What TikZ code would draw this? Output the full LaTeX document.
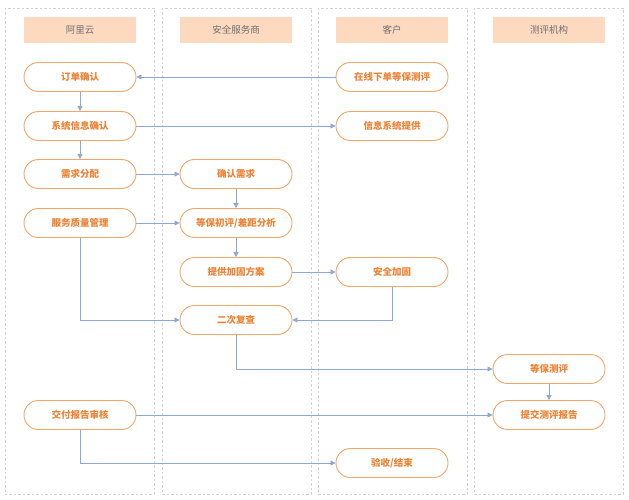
\documentclass[tikz,border=0pt]{standalone}
\usepackage{fontspec}
\setmainfont{Noto Sans CJK SC}
\usepackage{tikz}
\usetikzlibrary{arrows.meta,positioning}

\definecolor{lanegray}{HTML}{D2D2D2}
\definecolor{headfill}{HTML}{FDD9BF}
\definecolor{headtext}{HTML}{707070}
\definecolor{stepline}{HTML}{F3A66A}
\definecolor{steptext}{HTML}{EE8235}
\definecolor{flowblue}{HTML}{8EA7D9}

\begin{document}
\begin{tikzpicture}[x=1pt,y=-1pt]

\tikzstyle{lane}=[draw=lanegray,dash pattern=on 2.5pt off 2pt,line width=0.6pt]
\tikzstyle{header}=[fill=headfill,draw=none,minimum width=112pt,minimum height=26pt,inner sep=0pt,text=headtext,font=\fontsize{9.5}{11}\selectfont]
\tikzstyle{stepbox}=[draw=stepline,fill=white,line width=0.9pt,rounded corners=14.5pt,minimum width=112pt,minimum height=29pt,inner sep=0pt,text=steptext,font=\fontsize{9.5}{11}\selectfont\bfseries]
\tikzstyle{flow}=[draw=flowblue,line width=0.8pt,-{Triangle[length=5pt,width=5pt]}]

\useasboundingbox (0,0) rectangle (629,500);

% swim lanes
\draw [lane] (5,8) rectangle (154,494);
\draw [lane] (162,8) rectangle (311,494);
\draw [lane] (318,8) rectangle (467,494);
\draw [lane] (474,8) rectangle (623,494);

\node (h_aliyun) [header] at (80,30) {阿里云};
\node (h_vendor) [header] at (236,30) {安全服务商};
\node (h_client) [header] at (392,30) {客户};
\node (h_agency) [header] at (549,30) {测评机构};

% steps
\node (order) [stepbox] at (80,77) {订单确认};
\node (sysinfo) [stepbox] at (80,126) {系统信息确认};
\node (demand) [stepbox] at (80,174) {需求分配};
\node (quality) [stepbox] at (80,223) {服务质量管理};
\node (deliver) [stepbox] at (80,415) {交付报告审核};

\node (confirm) [stepbox] at (236,174) {确认需求};
\node (assess) [stepbox] at (236,223) {等保初评/差距分析};
\node (plan) [stepbox] at (236,272) {提供加固方案};
\node (recheck) [stepbox] at (236,320) {二次复查};

\node (online) [stepbox] at (392,77) {在线下单等保测评};
\node (provide) [stepbox] at (392,126) {信息系统提供};
\node (harden) [stepbox] at (392,272) {安全加固};
\node (accept) [stepbox] at (392,463) {验收/结束};

\node (evaluate) [stepbox] at (549,369) {等保测评};
\node (report) [stepbox] at (549,415) {提交测评报告};

% flow
\draw [flow] (online) -- (order);
\draw [flow] (order) -- (sysinfo);
\draw [flow] (sysinfo) -- (provide);
\draw [flow] (sysinfo) -- (demand);
\draw [flow] (demand) -- (confirm);
\draw [flow] (confirm) -- (assess);
\draw [flow] (quality) -- (assess);
\draw [flow] (quality) |- (recheck);
\draw [flow] (assess) -- (plan);
\draw [flow] (plan) -- (harden);
\draw [flow] (harden) |- (recheck);
\draw [flow] (recheck) |- (evaluate);
\draw [flow] (evaluate) -- (report);
\draw [flow] (deliver) -- (report);
\draw [flow] (deliver) |- (accept);

\end{tikzpicture}
\end{document}
